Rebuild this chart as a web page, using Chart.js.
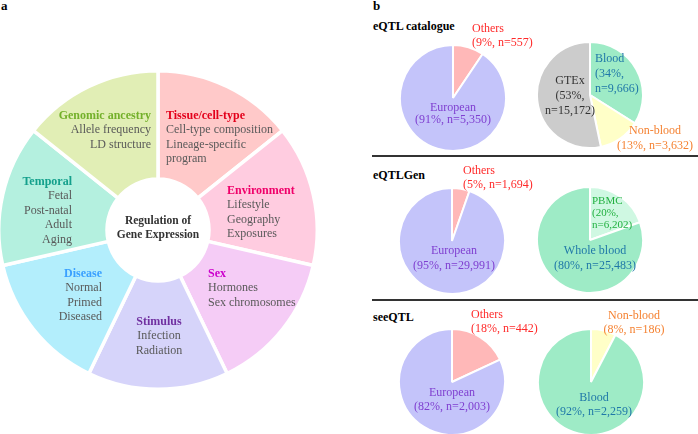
<!DOCTYPE html>
<html><head><meta charset="utf-8">
<script src="https://cdn.jsdelivr.net/npm/chart.js@4.4.1/dist/chart.umd.min.js"></script>
<style>
body{margin:0;background:#fff;}
#wrap{position:relative;width:698px;height:434px;overflow:hidden;font-family:"Liberation Serif","Times New Roman",serif;}
#wrap canvas{position:absolute;}
.t{position:absolute;white-space:nowrap;font-size:12px;}
.ln{display:block;}
.sep{position:absolute;height:1.5px;background:#333;}
</style></head><body><div id="wrap"></div>
<script>
// ---------------- data ----------------
const factorNames = ["Tissue/cell-type","Environment","Sex","Stimulus","Disease","Temporal","Genomic ancestry"];
const factorWeights = [1,1,1,1,1,1,1];
const factorItems = [
  ["Cell-type composition","Lineage-specific","program"],
  ["Lifestyle","Geography","Exposures"],
  ["Hormones","Sex chromosomes"],
  ["Infection","Radiation"],
  ["Normal","Primed","Diseased"],
  ["Fetal","Post-natal","Adult","Aging"],
  ["Allele frequency","LD structure"]
];
const centerTitle = ["Regulation of","Gene Expression"];

const resources = ["eQTL catalogue","eQTLGen","seeQTL"];
const ancestryCats = ["Others","European"];
const ancestryN_catalogue = [557,5350];
const ancestryN_eqtlgen = [1694,29991];
const ancestryN_seeqtl = [442,2003];
const tissueCats_catalogue = ["Blood","Non-blood","GTEx"];
const tissueN_catalogue = [9666,3632,15172];
const tissueCats_eqtlgen = ["PBMC","Whole blood"];
const tissueN_eqtlgen = [6202,25483];
const tissueCats_seeqtl = ["Non-blood","Blood"];
const tissueN_seeqtl = [186,2259];

// ---------------- styles ----------------
const factorFill = ["#FFC9C9","#FFCCE0","#F5CCF6","#D6D4FA","#B3EEFC","#B4F0DF","#E1EEB5"];
const factorTitleColor = ["#E3001B","#F0006A","#CC00CC","#7030A0","#3AA0FF","#14A08C","#73B02A"];
const bodyGray = "#595959";
const catFill = {"Others":"#FFB8B8","European":"#C4C4FA","Blood":"#9EEBC6","Non-blood":"#FFFFC8","GTEx":"#CCCCCC","PBMC":"#CFF8E2","Whole blood":"#9EEBC6"};
const catText = {"Others":"#FF2A2A","European":"#7F3FD0","Blood":"#1F78A8","Non-blood":"#F58232","GTEx":"#333333","PBMC":"#22B040","Whole blood":"#1F78A8"};

const wrap = document.getElementById('wrap');
Chart.defaults.font.family = '"Liberation Serif", serif';

function makeCanvas(cx, cy, size){
  const c = document.createElement('canvas');
  c.width = size; c.height = size;
  c.style.left = (cx - size/2) + 'px'; c.style.top = (cy - size/2) + 'px';
  c.style.width = size + 'px'; c.style.height = size + 'px';
  wrap.appendChild(c);
  return c;
}
const baseOpts = {responsive:false, animation:false, devicePixelRatio:1, layout:{padding:0},
  plugins:{legend:{display:false}, tooltip:{enabled:false}}, events:[]};

// text helper: lines = [{text,color,bold,size}]
function block(lines, x, y0, lh, align){
  const d = document.createElement('div');
  d.className = 't';
  d.style.lineHeight = lh + 'px';
  d.style.textAlign = align;
  d.style.top = (y0 - lh/2) + 'px';
  if(align === 'left') d.style.left = x + 'px';
  else if(align === 'right') d.style.right = (698 - x) + 'px';
  else { d.style.left = x + 'px'; d.style.transform = 'translateX(-50%)'; }
  lines.forEach(l => {
    const s = document.createElement('span');
    s.className = 'ln';
    s.textContent = l.text;
    s.style.color = l.color || '#000';
    if(l.bold) s.style.fontWeight = 'bold';
    if(l.size) s.style.fontSize = l.size + 'px';
    d.appendChild(s);
  });
  wrap.appendChild(d);
}

// ---------------- panel a: doughnut ----------------
const donutBW = 3.5;
new Chart(makeCanvas(158, 230, 322), {
  type:'doughnut',
  data:{labels:factorNames, datasets:[{data:factorWeights, backgroundColor:factorFill,
    borderColor:'#ffffff', borderWidth:donutBW}]},
  options:Object.assign({}, baseOpts, {cutout:51})
});

const factorLayout = [
  {x:166, y:115, lh:14.5, align:'left'},
  {x:227, y:190, lh:14.6, align:'left'},
  {x:208, y:273, lh:14.4, align:'left'},
  {x:159, y:321, lh:14.5, align:'center'},
  {x:102, y:273, lh:14.4, align:'right'},
  {x:72,  y:181, lh:14.5, align:'right'},
  {x:151, y:115, lh:14.5, align:'right'}
];
factorNames.forEach((n,i) => {
  const L = factorLayout[i];
  const lines = [{text:n, color:factorTitleColor[i], bold:true}].concat(
    factorItems[i].map(t => ({text:t, color:bodyGray})));
  block(lines, L.x, L.y, L.lh, L.align);
});
block(centerTitle.map(t => ({text:t, color:'#333', bold:true, size:11.5})), 158, 220, 14.7, 'center');

block([{text:'a', bold:true, size:13}], 1, 6, 14, 'left');
block([{text:'b', bold:true, size:13}], 373, 6, 14, 'left');

// ---------------- panel b: pies ----------------
function pct(arr){ const s = arr.reduce((a,b)=>a+b,0); return arr.map(v => Math.round(v/s*100)); }
function fmt(v){ return v.toLocaleString('en-US'); }

function pie(cx, cy, cats, vals){
  new Chart(makeCanvas(cx, cy, 108), {
    type:'pie',
    data:{labels:cats, datasets:[{data:vals, backgroundColor:cats.map(c=>catFill[c]),
      borderColor:'#ffffff', borderWidth:2}]},
    options:baseOpts
  });
}
function pieLabel(cats, vals, idx, x, y0, lh, align, mode){
  const p = pct(vals)[idx], c = cats[idx], col = catText[c];
  let lines;
  if(mode === 3) lines = [c, '(' + p + '%,', 'n=' + fmt(vals[idx]) + ')'];
  else lines = [c, '(' + p + '%, n=' + fmt(vals[idx]) + ')'];
  block(lines.map(t => ({text:t, color:col})), x, y0, lh, align);
}

const headerY = [26, 175, 317];
resources.forEach((r,i) => block([{text:r, bold:true}], 373, headerY[i], 14, 'left'));

// separators
[156, 300].forEach(y => {
  const d = document.createElement('div'); d.className = 'sep';
  d.style.left = '372px'; d.style.width = '326px'; d.style.top = (y - 0.75) + 'px';
  wrap.appendChild(d);
});

// eQTL catalogue
pie(453, 98, ancestryCats, ancestryN_catalogue);
pie(590, 95, tissueCats_catalogue, tissueN_catalogue);
pieLabel(ancestryCats, ancestryN_catalogue, 0, 472, 28, 14.5, 'left', 2);
pieLabel(ancestryCats, ancestryN_catalogue, 1, 453, 107, 12.5, 'center', 2);
pieLabel(tissueCats_catalogue, tissueN_catalogue, 0, 595, 58, 15, 'left', 3);
pieLabel(tissueCats_catalogue, tissueN_catalogue, 1, 655, 130, 15, 'center', 2);
pieLabel(tissueCats_catalogue, tissueN_catalogue, 2, 570, 80, 15, 'center', 3);

// eQTLGen
pie(452, 241, ancestryCats, ancestryN_eqtlgen);
pie(590, 240, tissueCats_eqtlgen, tissueN_eqtlgen);
pieLabel(ancestryCats, ancestryN_eqtlgen, 0, 463, 171, 13.7, 'left', 2);
pieLabel(ancestryCats, ancestryN_eqtlgen, 1, 454, 250, 15, 'center', 2);
block([tissueCats_eqtlgen[0], '(' + pct(tissueN_eqtlgen)[0] + '%,', 'n=' + fmt(tissueN_eqtlgen[0]) + ')']
  .map(t => ({text:t, color:catText['PBMC'], size:11})), 592, 200, 12, 'left');
pieLabel(tissueCats_eqtlgen, tissueN_eqtlgen, 1, 595, 250, 15, 'center', 2);

// seeQTL
pie(452, 382, ancestryCats, ancestryN_seeqtl);
pie(591, 382, tissueCats_seeqtl, tissueN_seeqtl);
pieLabel(ancestryCats, ancestryN_seeqtl, 0, 471, 314, 14, 'left', 2);
pieLabel(ancestryCats, ancestryN_seeqtl, 1, 452, 392, 14, 'center', 2);
pieLabel(tissueCats_seeqtl, tissueN_seeqtl, 0, 634, 315, 14, 'center', 2);
pieLabel(tissueCats_seeqtl, tissueN_seeqtl, 1, 594, 397, 14, 'center', 2);
</script></body></html>
